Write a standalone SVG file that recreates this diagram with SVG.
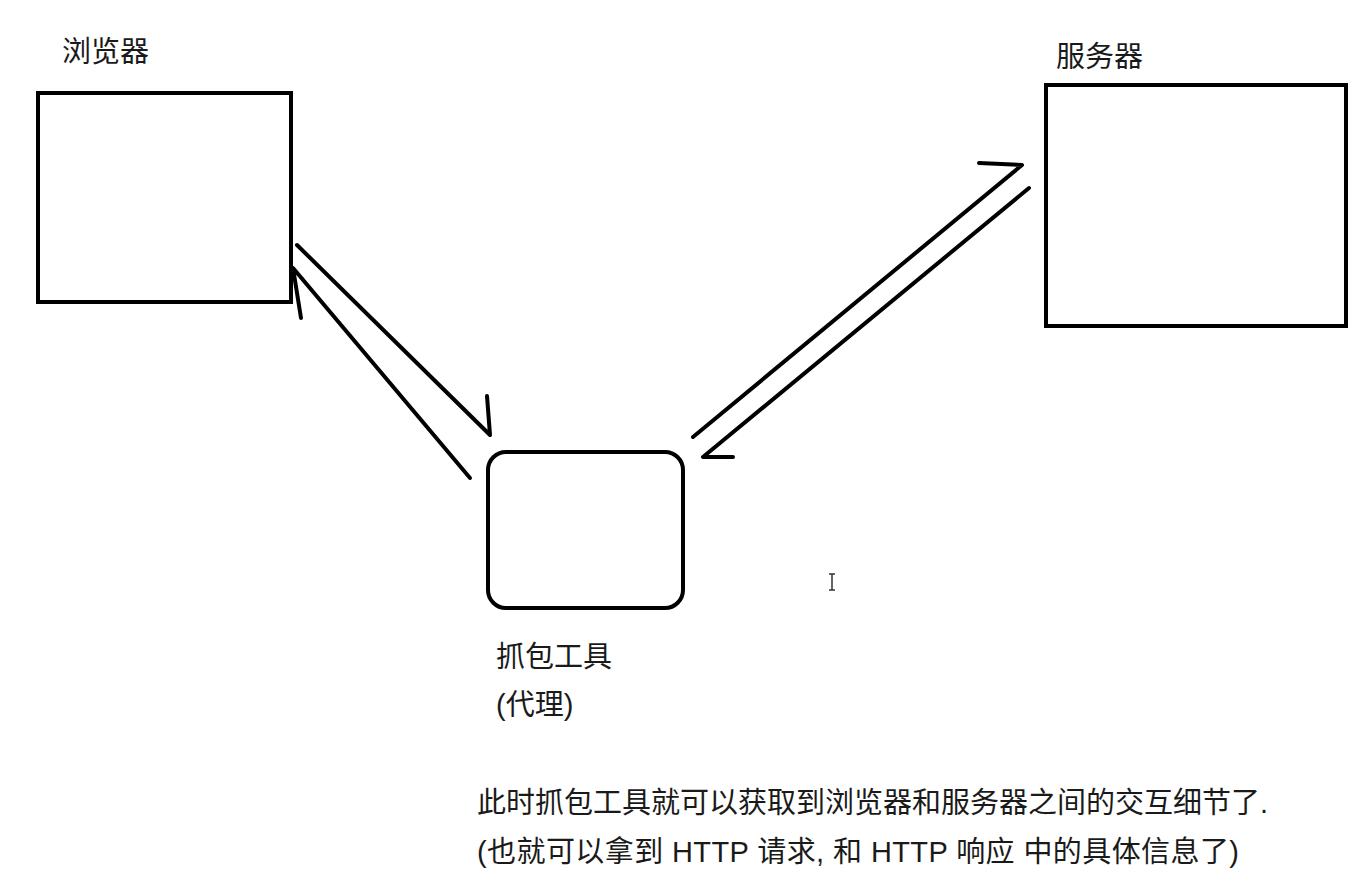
<svg xmlns="http://www.w3.org/2000/svg" width="1362" height="880" viewBox="0 0 1362 880">
<style>
.box{fill:#fff;stroke:#000;stroke-width:4}
.ln{fill:none;stroke:#000;stroke-width:4;stroke-linecap:round;stroke-linejoin:round}
.t{font-family:"Liberation Sans","Noto Sans CJK SC",sans-serif;font-size:29px;fill:#1a1a1a}
</style>
<rect width="1362" height="880" fill="#fff"/>
<g id="browser">
<rect class="box" x="38" y="93" width="253" height="209"/>
<text class="t" x="62" y="62">浏览器</text>
</g>
<g id="server">
<rect class="box" x="1046" y="85" width="300" height="241"/>
<text class="t" x="1056" y="67">服务器</text>
</g>
<g id="proxy">
<rect class="box" x="488" y="452" width="195" height="156" rx="18"/>
<text class="t" x="496" y="667">抓包工具</text>
<text class="t" x="496" y="715">(代理)</text>
</g>
<g id="connectors">
<path class="ln" d="M297,245 L490,435 L487,396"/>
<path class="ln" d="M470,478 L293,268 L301,318"/>
<path class="ln" d="M693,437 L1022,165 L979,163"/>
<path class="ln" d="M1029,188 L703,457 L733,457"/>
</g>
<g id="note">
<text class="t" x="477" y="813">此时抓包工具就可以获取到浏览器和服务器之间的交互细节了.</text>
<text class="t" x="477" y="862" textLength="762" lengthAdjust="spacing">(也就可以拿到 HTTP 请求, 和 HTTP 响应 中的具体信息了)</text>
</g>
<g id="cursor" stroke="#333" stroke-width="1.5" fill="none">
<path d="M832,574 V590 M829,574 H835 M829,590 H835"/>
</g>
</svg>
